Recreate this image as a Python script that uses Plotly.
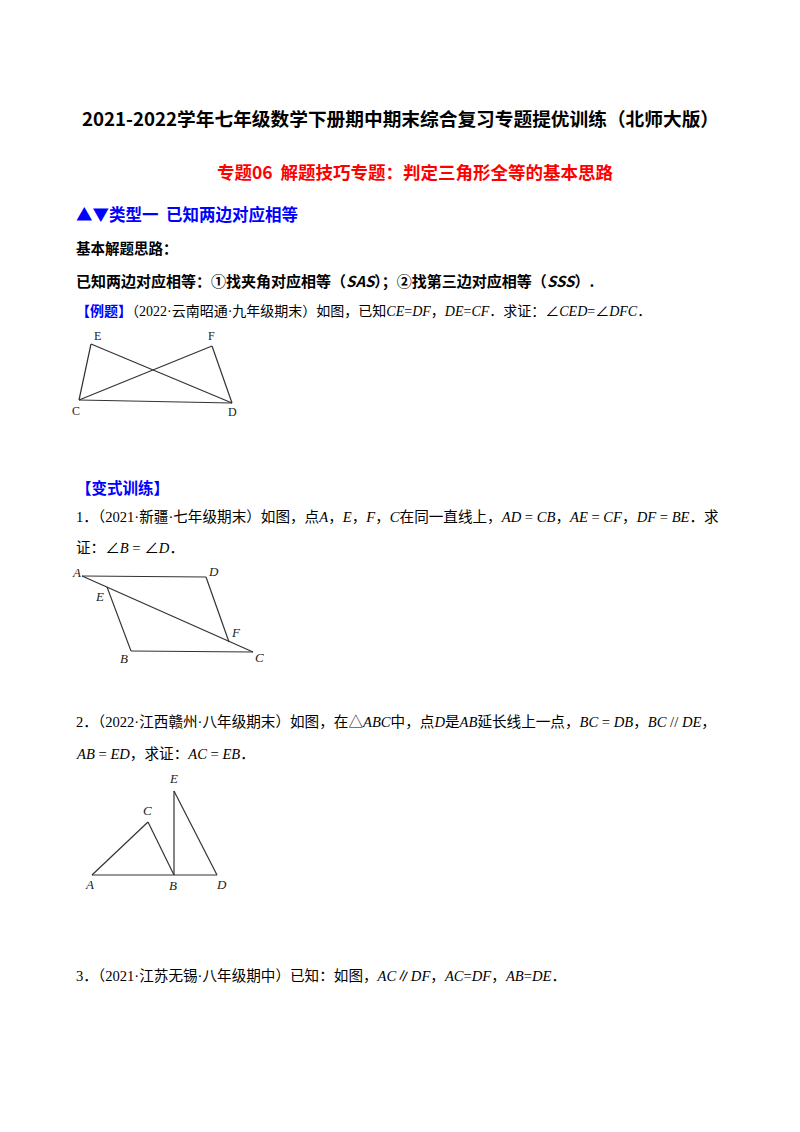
import plotly.graph_objects as go

# figure vertices (page pixel coordinates)
fig1_pts = {"E": (91, 344), "F": (212, 346), "C": (79, 400), "D": (232, 403)}
fig1_segs = [("C", "E"), ("E", "D"), ("C", "F"), ("F", "D"), ("C", "D")]
fig1_labels = {"E": (97, 336), "F": (211, 336), "C": (76, 411), "D": (232, 412)}

fig2_pts = {"A": (82, 576), "D": (206, 577), "E": (107, 587), "F": (229, 642), "B": (131, 651), "C": (253, 652)}
fig2_segs = [("A", "D"), ("A", "C"), ("D", "F"), ("E", "B"), ("B", "C")]
fig2_labels = {"A": (76, 572), "D": (213, 571), "E": (99, 596), "F": (236, 632), "B": (124, 658), "C": (259, 657)}

fig3_pts = {"A": (92, 875), "C": (148, 822), "B": (174, 875), "E": (174, 791), "D": (217, 875)}
fig3_segs = [("A", "C"), ("C", "B"), ("A", "D"), ("B", "E"), ("E", "D")]
fig3_labels = {"A": (89, 884), "C": (147, 810), "B": (173, 885), "E": (173, 778), "D": (221, 884)}

FONT = "Noto Sans CJK SC"
SERIF = "Liberation Serif, Noto Sans CJK SC"

fig = go.Figure()
for pts, segs, labels, italic in [(fig1_pts, fig1_segs, fig1_labels, False),
                                  (fig2_pts, fig2_segs, fig2_labels, True),
                                  (fig3_pts, fig3_segs, fig3_labels, True)]:
    for a, b in segs:
        fig.add_trace(go.Scatter(x=[pts[a][0], pts[b][0]], y=[pts[a][1], pts[b][1]],
                                 mode="lines", line=dict(color="#333", width=1.2),
                                 hoverinfo="skip", showlegend=False))
    for k, (x, y) in labels.items():
        t = f"<i>{k}</i>" if italic else k
        fig.add_annotation(x=x, y=y, text=t, showarrow=False,
                           font=dict(family=SERIF, size=13 if italic else 12, color="#222"))

def txt(x, y, s, size=14.5, color="black", family=SERIF, anchor="left"):
    fig.add_annotation(x=x, y=y, text=s, showarrow=False, xanchor=anchor, yanchor="middle",
                       font=dict(family=family, size=size, color=color))

txt(400, 117, "<b>2021-2022学年七年级数学下册期中期末综合复习专题提优训练（北师大版）</b>", 18.7, anchor="center", family=FONT)
txt(415, 171, "<b>专题06  解题技巧专题：判定三角形全等的基本思路</b>", 17.5, color="#ff0000", anchor="center", family=FONT)
txt(74, 214, "<b>▲▼类型一  已知两边对应相等</b>", 16.5, color="#0000ff", family=FONT)
txt(74, 247, "<b>基本解题思路：</b>", 14.5, family=FONT)
txt(74, 280, "<b>已知两边对应相等：①找夹角对应相等（<i>SAS</i>）；②找第三边对应相等（<i>SSS</i>）.</b>", 15, family=FONT)
txt(74, 311, "<span style='color:#0000ff'><b>【例题】</b></span>（2022·云南昭通·九年级期末）如图，已知<i>CE</i>=<i>DF</i>，<i>DE</i>=<i>CF</i>．求证：∠<i>CED</i>=∠<i>DFC</i>．", 14)
txt(74, 487, "<b>【变式训练】</b>", 15.5, color="#0000ff", family=FONT)
txt(74, 517, "1．（2021·新疆·七年级期末）如图，点<i>A</i>，<i>E</i>，<i>F</i>，<i>C</i>在同一直线上，<i>AD</i> = <i>CB</i>，<i>AE</i> = <i>CF</i>，<i>DF</i> = <i>BE</i>．求", 14.6)
txt(74, 548, "证：∠<i>B</i> = ∠<i>D</i>．", 14.6)
txt(74, 722, "2．（2022·江西赣州·八年级期末）如图，在△<i>ABC</i>中，点<i>D</i>是<i>AB</i>延长线上一点，<i>BC</i> = <i>DB</i>，<i>BC</i> // <i>DE</i>，", 14.6)
txt(74, 754, "<i>AB</i> = <i>ED</i>，求证：<i>AC</i> = <i>EB</i>．", 14.6)
txt(74, 976, "3．（2021·江苏无锡·八年级期中）已知：如图，<i>AC</i>∥<i>DF</i>，<i>AC</i>=<i>DF</i>，<i>AB</i>=<i>DE</i>．", 14.6)

# page body has an 8px margin, so offset the pixel ranges
fig.update_layout(width=800, height=1132, margin=dict(l=0, r=0, t=0, b=0),
                  plot_bgcolor="white", paper_bgcolor="white",
                  xaxis=dict(range=[8, 808], visible=False, fixedrange=True),
                  yaxis=dict(range=[1140, 8], visible=False, fixedrange=True))
fig.write_html("out.html")
